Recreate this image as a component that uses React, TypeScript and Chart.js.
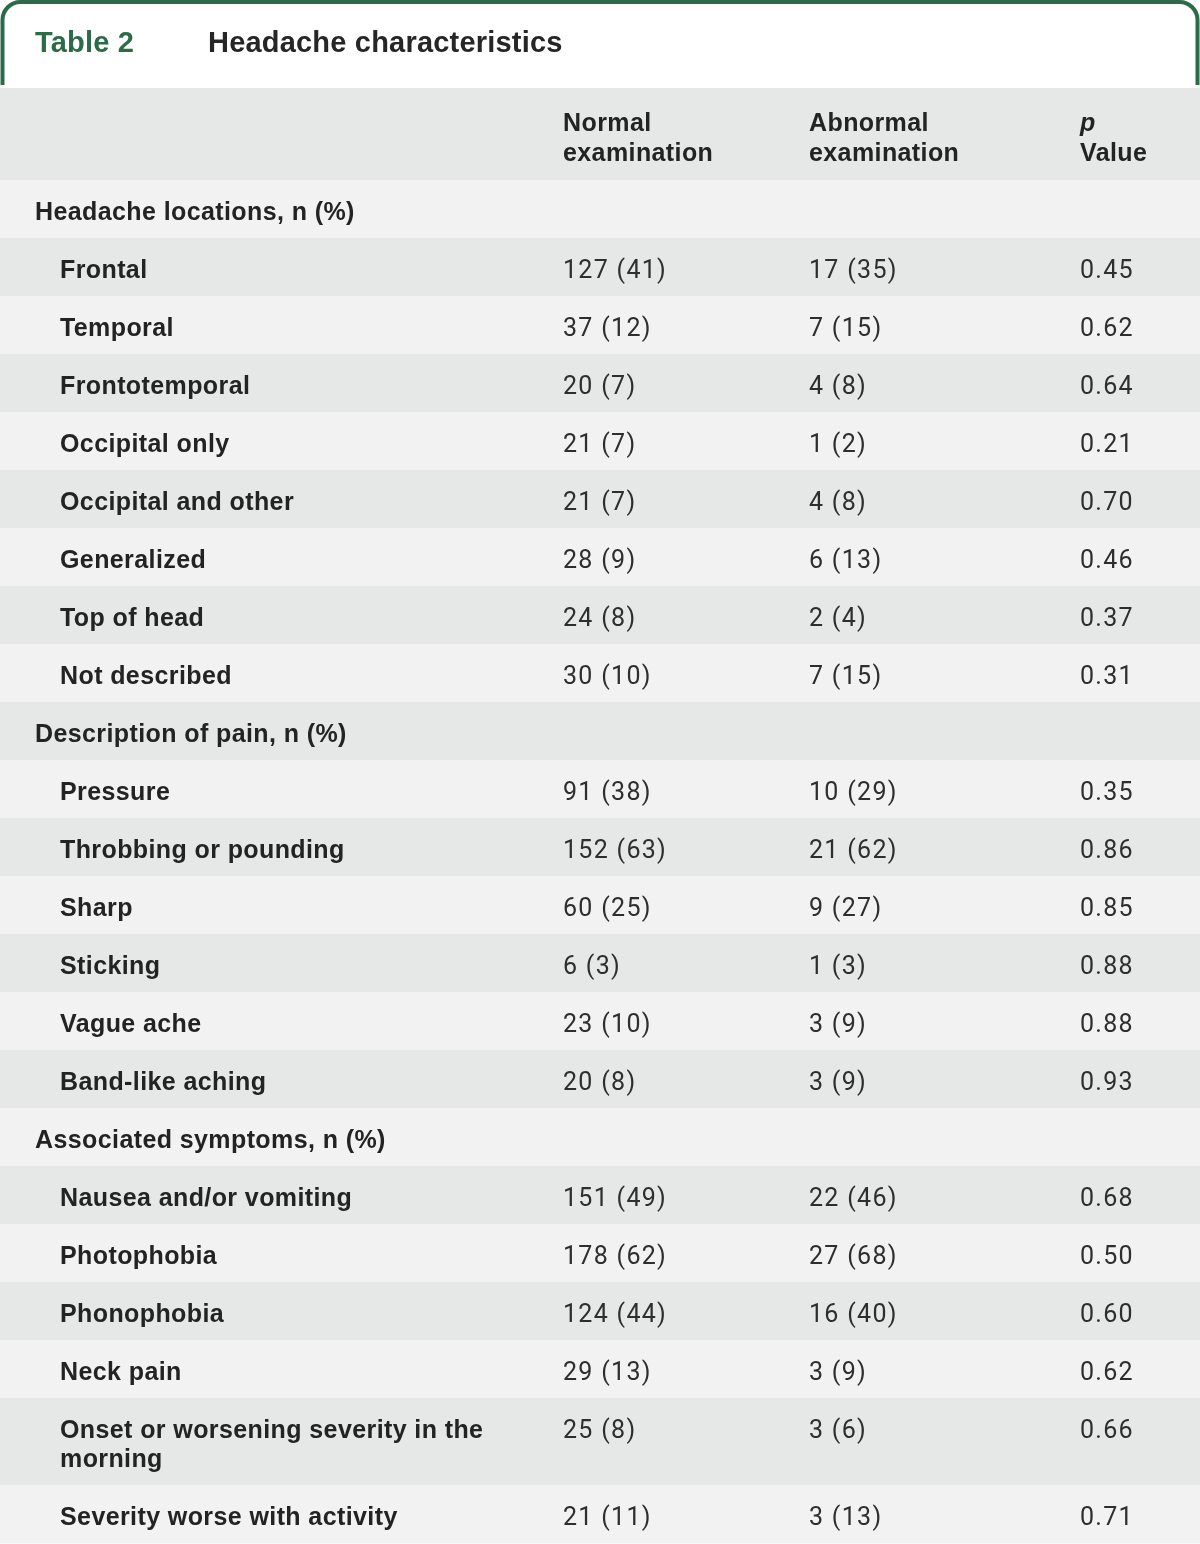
import React, { useEffect, useRef } from "react";
import { Chart, registerables } from "chart.js";

Chart.register(...registerables);

// ---------- DATA ----------
const tableNumber = "Table 2";
const tableTitle = "Headache characteristics";

const columnHeaders: string[][] = [
  ["Normal", "examination"],
  ["Abnormal", "examination"],
  ["p", "Value"],
];

const rowLabels: string[] = [
  "Headache locations, n (%)",
  "Frontal",
  "Temporal",
  "Frontotemporal",
  "Occipital only",
  "Occipital and other",
  "Generalized",
  "Top of head",
  "Not described",
  "Description of pain, n (%)",
  "Pressure",
  "Throbbing or pounding",
  "Sharp",
  "Sticking",
  "Vague ache",
  "Band-like aching",
  "Associated symptoms, n (%)",
  "Nausea and/or vomiting",
  "Photophobia",
  "Phonophobia",
  "Neck pain",
  "Onset or worsening severity in the\nmorning",
  "Severity worse with activity",
];

const rowIsSection: boolean[] = [
  true, false, false, false, false, false, false, false, false,
  true, false, false, false, false, false, false,
  true, false, false, false, false, false, false,
];

const normalExamination: string[] = [
  "", "127 (41)", "37 (12)", "20 (7)", "21 (7)", "21 (7)", "28 (9)", "24 (8)", "30 (10)",
  "", "91 (38)", "152 (63)", "60 (25)", "6 (3)", "23 (10)", "20 (8)",
  "", "151 (49)", "178 (62)", "124 (44)", "29 (13)", "25 (8)", "21 (11)",
];

const abnormalExamination: string[] = [
  "", "17 (35)", "7 (15)", "4 (8)", "1 (2)", "4 (8)", "6 (13)", "2 (4)", "7 (15)",
  "", "10 (29)", "21 (62)", "9 (27)", "1 (3)", "3 (9)", "3 (9)",
  "", "22 (46)", "27 (68)", "16 (40)", "3 (9)", "3 (6)", "3 (13)",
];

const pValues: string[] = [
  "", "0.45", "0.62", "0.64", "0.21", "0.70", "0.46", "0.37", "0.31",
  "", "0.35", "0.86", "0.85", "0.88", "0.88", "0.93",
  "", "0.68", "0.50", "0.60", "0.62", "0.66", "0.71",
];

// ---------- LAYOUT / STYLE ----------
const W = 1200;
const H = 1544;
const TITLE_H = 88;
const HEADER_H = 92;
const ROW_H = 58;
const EXTRA_LINE_H = 29;
const COL_X = [563, 809, 1080];
const SECTION_X = 35;
const ITEM_X = 60;

const GREEN = "#2c6b48";
const DARK_BG = "#e6e7e7";
const LIGHT_BG = "#f2f2f2";
const LABEL_COLOR = "#232323";
const NUM_COLOR = "#2e2e2e";
const LABEL_FONT = "bold 25px 'Liberation Sans', Arial, sans-serif";
const NUM_FONT = "25px Roboto, 'Liberation Sans', sans-serif";

function rowHeight(i: number) {
  return ROW_H + (rowLabels[i].split("\n").length - 1) * EXTRA_LINE_H;
}

function drawText(ctx: any, text: string, x: number, y: number, font: string, color: string, spacing: number) {
  ctx.save();
  ctx.font = font;
  ctx.fillStyle = color;
  ctx.textAlign = "left";
  ctx.textBaseline = "alphabetic";
  try {
    ctx.letterSpacing = spacing + "px";
  } catch (e) {}
  ctx.fillText(text, x, y);
  ctx.restore();
}

const tablePlugin = {
  id: "tableDraw",
  beforeDatasetsDraw(chart: any) {
    const ctx = chart.ctx;
    const xs = chart.scales.x;
    const ys = chart.scales.y;
    const px = (v: number) => xs.getPixelForValue(v);
    const py = (v: number) => ys.getPixelForValue(v);

    // Title frame
    ctx.save();
    ctx.fillStyle = "#ffffff";
    ctx.fillRect(0, 0, W, TITLE_H);
    ctx.strokeStyle = GREEN;
    ctx.lineWidth = 4;
    const x0 = 2.5, x1 = W - 2.5, top = 2, bottom = TITLE_H - 3, r = 18;
    ctx.beginPath();
    ctx.moveTo(x0, bottom);
    ctx.lineTo(x0, top + r);
    ctx.arcTo(x0, top, x0 + r, top, r);
    ctx.lineTo(x1 - r, top);
    ctx.arcTo(x1, top, x1, top + r, r);
    ctx.lineTo(x1, bottom);
    ctx.stroke();
    ctx.restore();

    drawText(ctx, tableNumber, 35, 52, "bold 29px 'Liberation Sans', Arial, sans-serif", GREEN, 0.2);
    drawText(ctx, tableTitle, 208, 52, "bold 29px 'Liberation Sans', Arial, sans-serif", "#262626", 0.2);

    // Header row
    const xl = px(0), xr = px(W);
    ctx.fillStyle = DARK_BG;
    ctx.fillRect(xl, py(0), xr - xl, py(HEADER_H) - py(0));
    columnHeaders.forEach((lines, c) => {
      lines.forEach((t, li) => {
        const f = t === "p" ? "italic bold 25px 'Liberation Sans', Arial, sans-serif" : LABEL_FONT;
        drawText(ctx, t, px(COL_X[c]), py(43 + li * 30), f, LABEL_COLOR, 0.4);
      });
    });

    // Body rows
    let yv = HEADER_H;
    rowLabels.forEach((label, i) => {
      const h = rowHeight(i);
      ctx.fillStyle = i % 2 === 0 ? LIGHT_BG : DARK_BG;
      ctx.fillRect(xl, py(yv), xr - xl, py(yv + h) - py(yv) + 0.5);
      const lx = rowIsSection[i] ? SECTION_X : ITEM_X;
      label.split("\n").forEach((t, li) => {
        drawText(ctx, t, px(lx), py(yv + 40 + li * EXTRA_LINE_H), LABEL_FONT, LABEL_COLOR, 0.4);
      });
      const vals = [normalExamination[i], abnormalExamination[i], pValues[i]];
      vals.forEach((v, c) => {
        if (v) drawText(ctx, v, px(COL_X[c]), py(yv + 40), NUM_FONT, NUM_COLOR, 1.3);
      });
      yv += h;
    });
  },
};

export default function App() {
  const ref = useRef<HTMLCanvasElement | null>(null);
  useEffect(() => {
    document.body.style.margin = "0";
    const canvas = ref.current;
    if (!canvas) return;
    let bodyH = HEADER_H;
    rowLabels.forEach((_, i) => (bodyH += rowHeight(i)));
    const chart = new Chart(canvas, {
      type: "scatter",
      data: { datasets: [{ data: [], pointRadius: 0 }] },
      options: {
        responsive: false,
        animation: false,
        events: [],
        layout: { padding: { top: TITLE_H, left: 0, right: 0, bottom: 0 } },
        plugins: { legend: { display: false }, tooltip: { enabled: false }, title: { display: false } },
        scales: {
          x: { type: "linear", min: 0, max: W, display: false },
          y: { type: "linear", min: 0, max: H - TITLE_H, reverse: true, display: false },
        },
      },
      plugins: [tablePlugin],
    } as any);
    return () => chart.destroy();
  }, []);
  return (
    <div style={{ width: W, height: H, background: "#ffffff" }}>
      <canvas ref={ref} width={W} height={H} style={{ display: "block" }} />
    </div>
  );
}
